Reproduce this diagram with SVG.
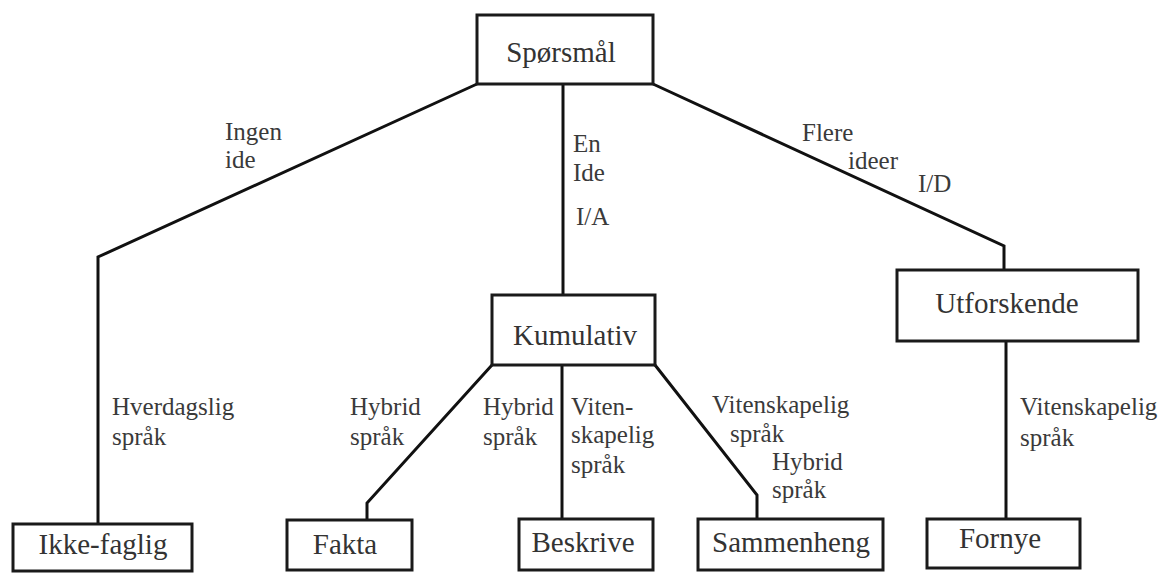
<svg xmlns="http://www.w3.org/2000/svg" width="1164" height="581" viewBox="0 0 1164 581" font-family="Liberation Serif, DejaVu Serif, serif">
<style>
.box{fill:#fff;stroke:#1a1a1a;stroke-width:3}
.nt{font-size:29px;fill:#333;text-anchor:middle}
.lb{font-size:25px;fill:#3a3a3a}
.ln{fill:none;stroke:#111;stroke-width:3;stroke-linejoin:miter}
</style>
<rect width="1164" height="581" fill="#fff"/>
<g id="connectors">
<polyline class="ln" points="477,84 98,257 98,524"/>
<line class="ln" x1="563" y1="84" x2="563" y2="295"/>
<polyline class="ln" points="653,84 1004,246 1004,270"/>
<line class="ln" x1="1006" y1="341" x2="1006" y2="519"/>
<polyline class="ln" points="492,365 367,503 367,520"/>
<line class="ln" x1="562" y1="365" x2="562" y2="519"/>
<polyline class="ln" points="655,365 757,495 757,519"/>
</g>
<g id="labels" font-family="Liberation Serif, DejaVu Serif, serif">
<text class="lb" x="225" y="140">Ingen</text>
<text class="lb" x="225" y="168">ide</text>
<text class="lb" x="573" y="152">En</text>
<text class="lb" x="573" y="181">Ide</text>
<text class="lb" x="576" y="225">I/A</text>
<text class="lb" x="802" y="141">Flere</text>
<text class="lb" x="848" y="169">ideer</text>
<text class="lb" x="918" y="192">I/D</text>
<text class="lb" x="112" y="415">Hverdagslig</text>
<text class="lb" x="112" y="445">språk</text>
<text class="lb" x="350" y="415">Hybrid</text>
<text class="lb" x="350" y="445">språk</text>
<text class="lb" x="483" y="415">Hybrid</text>
<text class="lb" x="483" y="445">språk</text>
<text class="lb" x="571" y="415">Viten-</text>
<text class="lb" x="571" y="443">skapelig</text>
<text class="lb" x="571" y="473">språk</text>
<text class="lb" x="712" y="413">Vitenskapelig</text>
<text class="lb" x="730" y="442">språk</text>
<text class="lb" x="772" y="470">Hybrid</text>
<text class="lb" x="772" y="498">språk</text>
<text class="lb" x="1020" y="415">Vitenskapelig</text>
<text class="lb" x="1020" y="446">språk</text>
</g>
<g id="node-sporsmal">
<rect class="box" x="477" y="15" width="176" height="69"/>
<text class="nt" x="561" y="62">Spørsmål</text>
</g>
<g id="node-kumulativ">
<rect class="box" x="492" y="295" width="163" height="70"/>
<text class="nt" x="575" y="345">Kumulativ</text>
</g>
<g id="node-utforskende">
<rect class="box" x="897" y="270" width="241" height="71"/>
<text class="nt" x="1007" y="313">Utforskende</text>
</g>
<g id="node-ikkefaglig">
<rect class="box" x="13" y="524" width="179" height="47"/>
<text class="nt" x="103" y="554">Ikke-faglig</text>
</g>
<g id="node-fakta">
<rect class="box" x="287" y="520" width="125" height="50"/>
<text class="nt" x="345" y="554">Fakta</text>
</g>
<g id="node-beskrive">
<rect class="box" x="519" y="519" width="134" height="51"/>
<text class="nt" x="583" y="552">Beskrive</text>
</g>
<g id="node-sammenheng">
<rect class="box" x="698" y="519" width="185" height="51" stroke-width="3.5"/>
<text class="nt" x="791" y="552">Sammenheng</text>
</g>
<g id="node-fornye">
<rect class="box" x="927" y="519" width="153" height="49"/>
<text class="nt" x="1000" y="548">Fornye</text>
</g>
</svg>
